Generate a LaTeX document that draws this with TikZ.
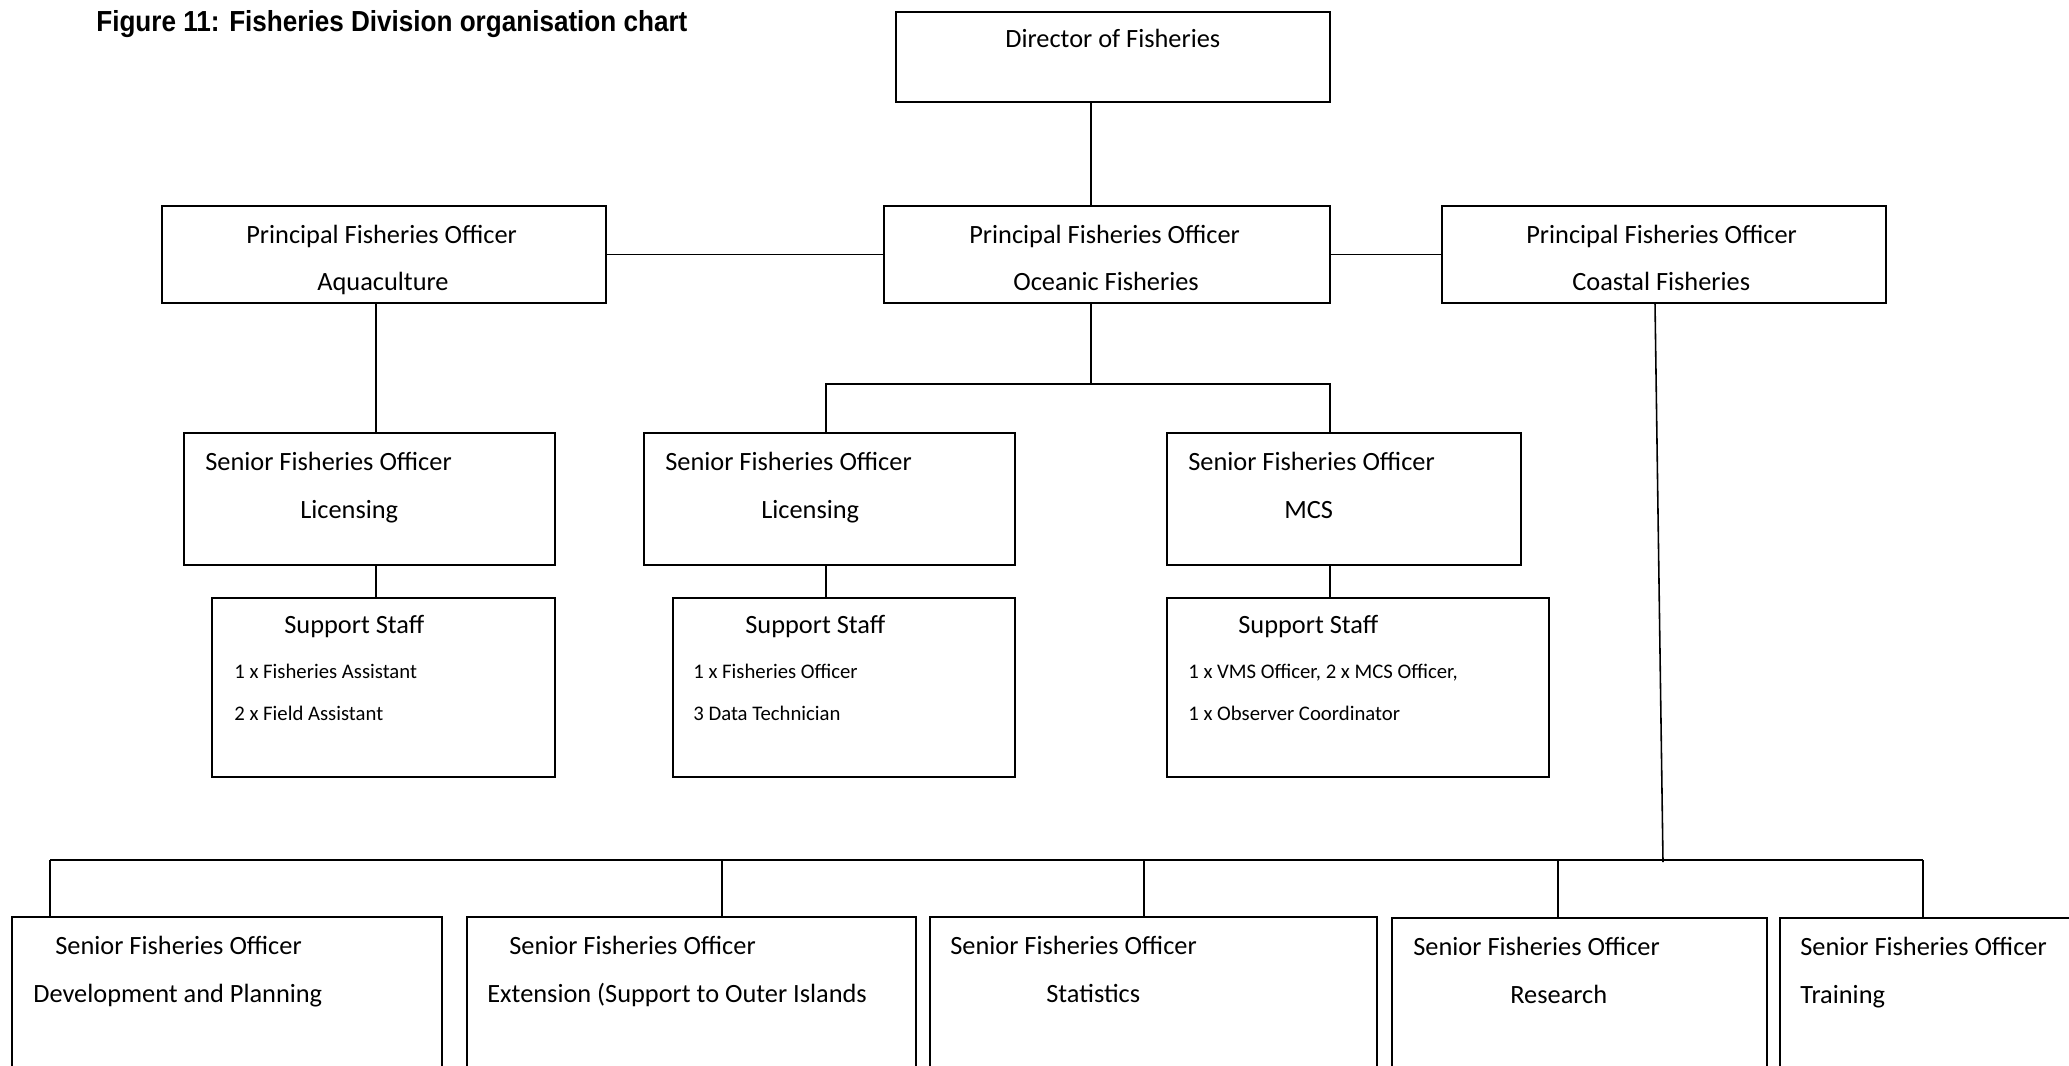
\documentclass[tikz,border=0pt]{standalone}
\usepackage{fontspec}
\setmainfont{Carlito}
\newfontfamily\narrowfont[FakeStretch=0.9]{Liberation Sans}
\usetikzlibrary{positioning, calc}

\begin{document}
\begin{tikzpicture}[x=0.02cm, y=-0.02cm,
  box/.style={rectangle, draw, line width=1.1pt, inner sep=0pt, outer sep=0pt, anchor=north west},
  txt/.style={anchor=base west, inner sep=0pt, font=\fontsize{15}{18}\selectfont},
  sml/.style={anchor=base west, inner sep=0pt, font=\fontsize{11.8}{14}\selectfont},
  link/.style={line width=0.9pt}]
\useasboundingbox (0,0) rectangle (2069,1065);
\clip (0,0) rectangle (2069,1065);
\fill [white] (0,0) rectangle (2069,1065);

\node [anchor=base west, inner sep=0pt, font=\narrowfont\bfseries\fontsize{16.5}{19}\selectfont] (title) at (96,31) {Figure 11: Fisheries Division organisation chart};

% top levels
\node [box, minimum width=8.68cm, minimum height=1.8cm] (dir) at (896,12) {};
\node [box, minimum width=8.88cm, minimum height=1.94cm] (aqu) at (162,206) {};
\node [box, minimum width=8.92cm, minimum height=1.94cm] (oce) at (884,206) {};
\node [box, minimum width=8.88cm, minimum height=1.94cm] (coa) at (1442,206) {};
\node [txt] (dir-t) at (1005,47) {Director of Fisheries};
\node [txt] (aqu-t) at (246,243) {Principal Fisheries Officer};
\node [txt] (aqu-s) at (317,290) {Aquaculture};
\node [txt] (oce-t) at (969,243) {Principal Fisheries Officer};
\node [txt] (oce-s) at (1013,290) {Oceanic Fisheries};
\node [txt] (coa-t) at (1526,243) {Principal Fisheries Officer};
\node [txt] (coa-s) at (1572,290) {Coastal Fisheries};

% senior officers and support staff
\node [box, minimum width=7.42cm, minimum height=2.64cm] (sfoA) at (184,433) {};
\node [box, minimum width=6.86cm, minimum height=3.58cm] (supA) at (212,598) {};
\node [box, minimum width=7.42cm, minimum height=2.64cm] (sfoB) at (644,433) {};
\node [box, minimum width=6.84cm, minimum height=3.58cm] (supB) at (673,598) {};
\node [box, minimum width=7.08cm, minimum height=2.64cm] (sfoC) at (1167,433) {};
\node [box, minimum width=7.64cm, minimum height=3.58cm] (supC) at (1167,598) {};

\node [txt] (sfoA-t) at (205,470) {Senior Fisheries Officer};
\node [txt] (sfoA-s) at (300,518) {Licensing};
\node [txt] (supA-t) at (284,633) {Support Staff};
\node [sml] (supA-a) at (234,678) {1 x Fisheries Assistant};
\node [sml] (supA-b) at (234,720) {2 x Field Assistant};

\node [txt] (sfoB-t) at (665,470) {Senior Fisheries Officer};
\node [txt] (sfoB-s) at (761,518) {Licensing};
\node [txt] (supB-t) at (745,633) {Support Staff};
\node [sml] (supB-a) at (693,678) {1 x Fisheries Officer};
\node [sml] (supB-b) at (693,720) {3 Data Technician};

\node [txt] (sfoC-t) at (1188,470) {Senior Fisheries Officer};
\node [txt] (sfoC-s) at (1284,518) {MCS};
\node [txt] (supC-t) at (1238,633) {Support Staff};
\node [sml] (supC-a) at (1188,678) {1 x VMS Officer, 2 x MCS Officer,};
\node [sml] (supC-b) at (1188,720) {1 x Observer Coordinator};

% coastal sections
\node [box, minimum width=8.60cm, minimum height=4.06cm] (devp) at (12,917) {};
\node [box, minimum width=8.98cm, minimum height=4.06cm] (extn) at (467,917) {};
\node [box, minimum width=8.94cm, minimum height=4.06cm] (stat) at (930,917) {};
\node [box, minimum width=7.50cm, minimum height=4.06cm] (resr) at (1392,918) {};
\node [box, minimum width=6.40cm, minimum height=4.06cm] (trng) at (1780,918) {};

\node [txt] (devp-t) at (55,954) {Senior Fisheries Officer};
\node [txt] (devp-s) at (33,1002) {Development and Planning};
\node [txt] (extn-t) at (509,954) {Senior Fisheries Officer};
\node [txt] (extn-s) at (487,1002) {Extension (Support to Outer Islands};
\node [txt] (stat-t) at (950,954) {Senior Fisheries Officer};
\node [txt] (stat-s) at (1046,1002) {Statistics};
\node [txt] (resr-t) at (1413,955) {Senior Fisheries Officer};
\node [txt] (resr-s) at (1510,1003) {Research};
\node [txt] (trng-t) at (1800,955) {Senior Fisheries Officer};
\node [txt] (trng-s) at (1800,1003) {Training};

% connectors
\coordinate (ocj) at (1091,384);
\coordinate (ocl) at (826,384);
\coordinate (ocr) at (1330,384);
\coordinate (aqj) at (376,0);
\coordinate (cbs) at (1655,0);
\coordinate (cbj) at (1663,862);
\coordinate (bl) at (50,860);
\coordinate (br) at (1923,860);

\draw [link] (dir.south -| ocj) -- (oce.north -| ocj);
\draw [link] (aqu.east) -- (oce.west);
\draw [link] (oce.east) -- (coa.west);
\draw [link] (aqu.south -| aqj) -- (sfoA.north -| aqj);
\draw [link] (sfoA.south -| aqj) -- (supA.north -| aqj);
\draw [link] (oce.south -| ocj) -- (ocj);
\draw [link] (sfoB.north -| ocl) -- (ocl) -- (ocr) -- (sfoC.north -| ocr);
\draw [link] (sfoB.south -| ocl) -- (supB.north -| ocl);
\draw [link] (sfoC.south -| ocr) -- (supC.north -| ocr);
\draw [link] (coa.south -| cbs) -- (cbj);
\draw [link] (bl) -- (br);
\foreach \b/\x [count=\i] in {devp/50, extn/722, stat/1144, resr/1558, trng/1923} {
  \coordinate (d\i) at (\x,860);
  \draw [link] (d\i) -- (d\i |- \b.north);
}
\end{tikzpicture}
\end{document}
